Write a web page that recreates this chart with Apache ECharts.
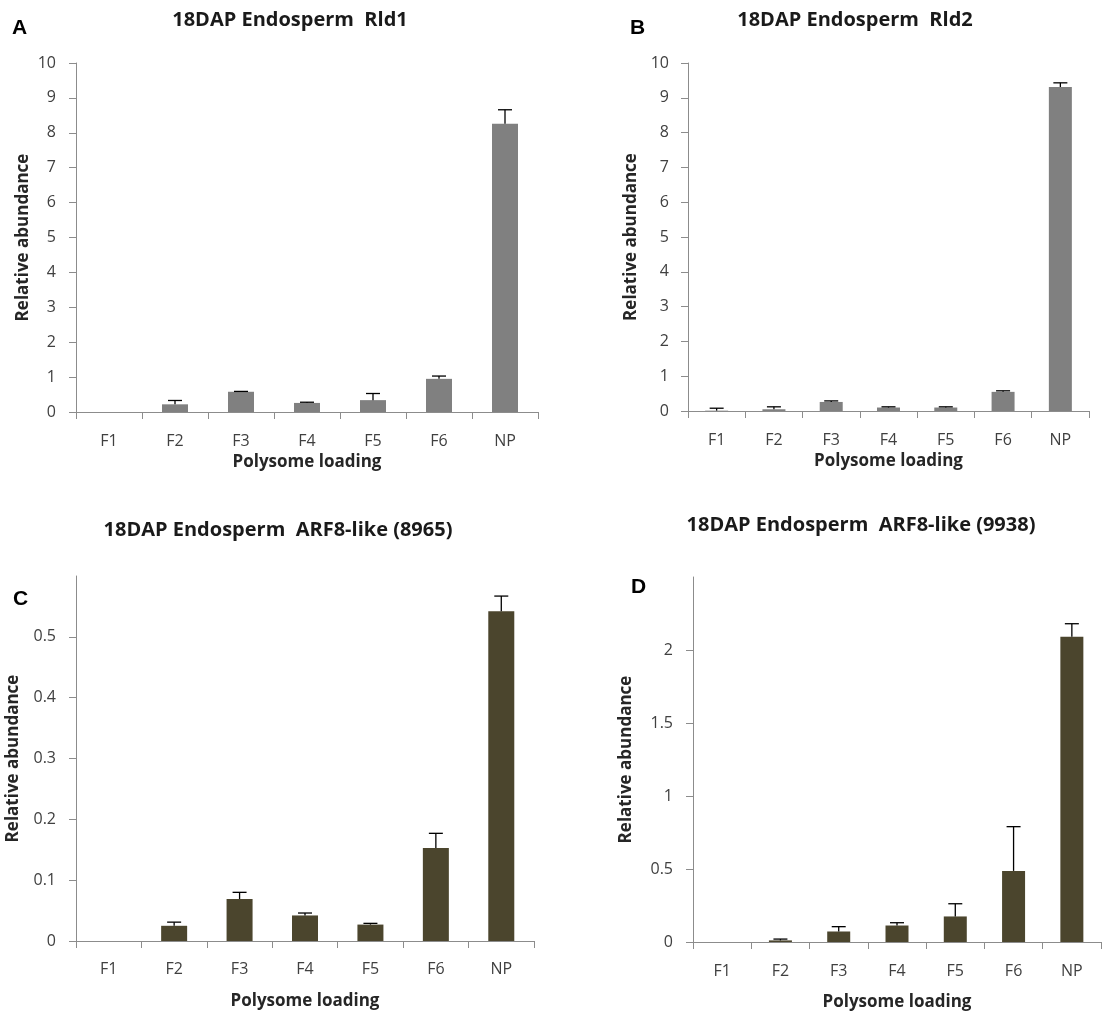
<!DOCTYPE html>
<html>
<head>
<meta charset="utf-8">
<script src="https://cdn.jsdelivr.net/npm/echarts@6/dist/echarts.min.js"></script>
<style>
html,body{margin:0;padding:0;background:#fff;}
#c{width:1106px;height:1017px;}
</style>
</head>
<body>
<div id="c"></div>
<script>
// ---- data ----
const categories = ['F1','F2','F3','F4','F5','F6','NP'];

const rld1Values  = [0,    0.22, 0.58, 0.26, 0.34, 0.95, 8.26];
const rld1Errors  = [null, 0.11, 0.01, 0.02, 0.19, 0.08, 0.40];

const rld2Values  = [0.01, 0.05, 0.26, 0.10, 0.10, 0.55, 9.31];
const rld2Errors  = [0.07, 0.07, 0.03, 0.02, 0.02, 0.03, 0.12];

const arf8965Values = [0,    0.025, 0.069, 0.042, 0.027, 0.153, 0.542];
const arf8965Errors = [null, 0.006, 0.011, 0.004, 0.002, 0.024, 0.025];

const arf9938Values = [0,    0.011, 0.072, 0.113, 0.175, 0.487, 2.09];
const arf9938Errors = [null, 0.009, 0.033, 0.019, 0.087, 0.303, 0.09];

const titles = ['18DAP Endosperm  Rld1','18DAP Endosperm  Rld2','18DAP Endosperm  ARF8-like (8965)','18DAP Endosperm  ARF8-like (9938)'];
const panelLetters = ['A','B','C','D'];
const yMax = [10, 10, 0.6, 2.5];
const yInterval = [1, 1, 0.1, 0.5];
const yName = 'Relative abundance';
const xName = 'Polysome loading';

// ---- layout ----
const FONT = '"Open Sans", Lato, sans-serif';
const grids = [
  {left:76,  top:63,  width:462, height:349},
  {left:688, top:63,  width:401, height:348},
  {left:76,  top:576, width:458, height:365},
  {left:693, top:577, width:408, height:365}
];
const barColors = ['#808080','#808080','#4B452D','#4B452D'];
const barWidths = [26, 23, 26, 23];
const yNameGaps = [44, 48, 54, 58];
const yLabelMargins = [20, 19, 20, 20];
const xNameGaps = [42, 42, 52, 52];
const xLabelMargins = [21, 21, 20, 21];
const panels = [
  [rld1Values, rld1Errors],
  [rld2Values, rld2Errors],
  [arf8965Values, arf8965Errors],
  [arf9938Values, arf9938Errors]
];
const titlePos = [[285,5],[850,5],[273,515],[856,510]];
const letterPos = [[12,18],[630,18],[13,589],[631,577]];

const axisLineColor = '#8C8C8C';
const labelColor = '#404040';

const option = {
  animation:false,
  backgroundColor:'#fff',
  title: [],
  grid: grids.map(g => Object.assign({containLabel:false}, g)),
  xAxis: [], yAxis: [], series: [],
  graphic: []
};

grids.forEach((g, i) => {
  option.title.push({
    text: titles[i], left: titlePos[i][0], top: titlePos[i][1], textAlign:'center',
    textStyle:{fontFamily:FONT, fontWeight:'bold', fontSize:20, color:'#1a1a1a'}
  });
  option.graphic.push({
    type:'text', left: letterPos[i][0], top: letterPos[i][1],
    style:{text: panelLetters[i], font:'bold 21px Arial, "Liberation Sans", sans-serif', fill:'#000'}
  });
  option.xAxis.push({
    type:'category', gridIndex:i, data:categories,
    boundaryGap:true,
    axisLine:{lineStyle:{color:axisLineColor, width:1}},
    axisTick:{show:true, length:7, lineStyle:{color:axisLineColor}},
    axisLabel:{color:labelColor, fontFamily:FONT, fontSize:16, margin:xLabelMargins[i]},
    name:xName, nameLocation:'middle', nameGap:xNameGaps[i],
    nameTextStyle:{fontFamily:FONT, fontWeight:'bold', fontSize:17, color:'#262626'},
    splitLine:{show:false}
  });
  option.yAxis.push({
    type:'value', gridIndex:i, min:0, max:yMax[i], interval:yInterval[i],
    axisLine:{show:true, lineStyle:{color:axisLineColor, width:1}},
    axisTick:{show:true, length:7, lineStyle:{color:axisLineColor}},
    axisLabel:{color:labelColor, fontFamily:FONT, fontSize:16, margin:yLabelMargins[i],
      showMaxLabel: i < 2},
    splitLine:{show:false},
    name:yName, nameLocation:'middle', nameGap:yNameGaps[i], nameRotate:90,
    nameTextStyle:{fontFamily:FONT, fontWeight:'bold', fontSize:17, color:'#262626'}
  });
  const vals = panels[i][0], errs = panels[i][1];
  option.series.push({
    type:'bar', xAxisIndex:i, yAxisIndex:i, data:vals, barWidth:barWidths[i],
    itemStyle:{color:barColors[i]}, silent:true
  });
  option.series.push({
    type:'custom', xAxisIndex:i, yAxisIndex:i, silent:true, z:5,
    data: vals.map((v, k) => [k, v, errs[k]]),
    renderItem: function(params, api){
      const e = api.value(2);
      if (e === null || e === undefined || isNaN(e)) return null;
      const k = api.value(0), v = api.value(1);
      const p0 = api.coord([k, v]);
      const p1 = api.coord([k, v + e]);
      const hw = 7;
      const st = {stroke:'#000', lineWidth:1.3};
      return {type:'group', children:[
        {type:'line', shape:{x1:p0[0], y1:p0[1], x2:p1[0], y2:p1[1]}, style:st},
        {type:'line', shape:{x1:p1[0]-hw, y1:p1[1], x2:p1[0]+hw, y2:p1[1]}, style:st}
      ]};
    }
  });
});

const chart = echarts.init(document.getElementById('c'), null, {renderer:'canvas'});
chart.setOption(option);
</script>
</body>
</html>
